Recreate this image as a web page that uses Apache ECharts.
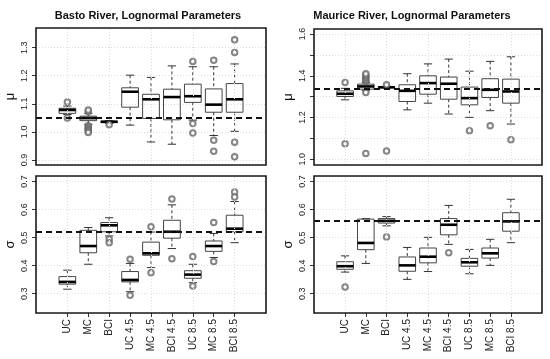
<!DOCTYPE html>
<html>
<head>
<meta charset="utf-8">
<script src="https://cdn.jsdelivr.net/npm/echarts@6/dist/echarts.min.js"></script>
<style>
html,body{margin:0;padding:0;background:#fff;}
#chart{width:550px;height:359px;}
</style>
</head>
<body>
<div id="chart"></div>
<script>
// ---- data ----
const categories = ['UC', 'MC', 'BCI', 'UC 4.5', 'MC 4.5', 'BCI 4.5', 'UC 8.5', 'MC 8.5', 'BCI 8.5'];
const titles = ['Basto River, Lognormal Parameters', 'Maurice River, Lognormal Parameters'];

// [lower whisker, Q1, median, Q3, upper whisker]
const bastoMuStats = [
  [1.062, 1.066, 1.078, 1.084, 1.092],
  [1.027, 1.040, 1.049, 1.056, 1.066],
  [1.030, 1.033, 1.036, 1.038, 1.040],
  [1.024, 1.088, 1.143, 1.157, 1.202],
  [0.964, 1.048, 1.116, 1.134, 1.194],
  [0.956, 1.043, 1.124, 1.152, 1.235],
  [1.042, 1.105, 1.127, 1.170, 1.232],
  [0.987, 1.070, 1.097, 1.153, 1.232],
  [1.002, 1.070, 1.116, 1.172, 1.242]
];
const bastoMuOutliers = [
  [1.106, 1.049],
  [1.072, 1.078, 1.022, 1.017, 1.012, 1.007, 1.003, 0.998],
  [1.025],
  [], [], [],
  [1.251, 1.030, 0.996],
  [1.255, 0.970, 0.931],
  [1.328, 1.283, 0.963, 0.911]
];
const bastoMuRef = 1.055;

const bastoSigmaStats = [
  [0.316, 0.334, 0.342, 0.361, 0.384],
  [0.405, 0.446, 0.470, 0.526, 0.536],
  [0.506, 0.521, 0.544, 0.554, 0.571],
  [0.307, 0.342, 0.349, 0.379, 0.408],
  [0.393, 0.437, 0.444, 0.484, 0.520],
  [0.461, 0.498, 0.521, 0.562, 0.617],
  [0.339, 0.355, 0.368, 0.382, 0.405],
  [0.429, 0.451, 0.470, 0.488, 0.515],
  [0.482, 0.521, 0.532, 0.580, 0.629]
];
const bastoSigmaOutliers = [
  [], [],
  [0.494, 0.482],
  [0.423, 0.294],
  [0.539, 0.375],
  [0.638, 0.425],
  [0.433, 0.327],
  [0.554, 0.415],
  [0.663, 0.645]
];
const bastoSigmaRef = 0.52;

const mauriceMuStats = [
  [1.285, 1.301, 1.314, 1.328, 1.340],
  [1.330, 1.336, 1.349, 1.360, 1.368],
  [1.341, 1.343, 1.345, 1.348, 1.350],
  [1.237, 1.277, 1.328, 1.357, 1.410],
  [1.269, 1.312, 1.365, 1.400, 1.457],
  [1.217, 1.288, 1.362, 1.394, 1.480],
  [1.201, 1.261, 1.293, 1.346, 1.422],
  [1.233, 1.296, 1.333, 1.386, 1.469],
  [1.169, 1.269, 1.325, 1.384, 1.491]
];
const mauriceMuOutliers = [
  [1.368, 1.075],
  [1.373, 1.380, 1.388, 1.395, 1.403, 1.410, 1.320, 1.028],
  [1.357, 1.040],
  [], [], [],
  [1.137],
  [1.161],
  [1.094]
];
const mauriceMuRef = 1.345;

const mauriceSigmaStats = [
  [0.377, 0.387, 0.398, 0.414, 0.435],
  [0.408, 0.457, 0.481, 0.566, 0.568],
  [0.542, 0.552, 0.560, 0.568, 0.575],
  [0.351, 0.380, 0.401, 0.431, 0.465],
  [0.379, 0.410, 0.432, 0.463, 0.501],
  [0.476, 0.510, 0.546, 0.568, 0.615],
  [0.371, 0.398, 0.412, 0.426, 0.458],
  [0.401, 0.427, 0.444, 0.463, 0.494],
  [0.482, 0.523, 0.558, 0.589, 0.637]
];
const mauriceSigmaOutliers = [
  [0.324], [],
  [0.502],
  [], [],
  [0.446],
  [], [], []
];
const mauriceSigmaRef = 0.564;

// y-axis extents (frame edges)
const yExtents = [[0.882, 1.37], [0.231, 0.72], [0.973, 1.624], [0.231, 0.72]];

// ---- chart ----
const axisCats = [''].concat(categories, ['']);
const gridCats = categories.filter((c, i) => i % 2 === 0);

const panels = [
  {stats: bastoMuStats, out: bastoMuOutliers, ref: bastoMuRef, name: 'μ', grid: {left: 36, top: 28, width: 230, height: 137}, bottom: false, labelEvery: 1},
  {stats: bastoSigmaStats, out: bastoSigmaOutliers, ref: bastoSigmaRef, name: 'σ', grid: {left: 36, top: 176, width: 230, height: 137}, bottom: true, labelEvery: 1},
  {stats: mauriceMuStats, out: mauriceMuOutliers, ref: mauriceMuRef, name: 'μ', grid: {left: 314, top: 29, width: 228, height: 136}, bottom: false, labelEvery: 2},
  {stats: mauriceSigmaStats, out: mauriceSigmaOutliers, ref: mauriceSigmaRef, name: 'σ', grid: {left: 314, top: 176, width: 228, height: 137}, bottom: true, labelEvery: 1}
];

const FONT = '"Liberation Sans", Arial, Helvetica, sans-serif';

function renderBox(params, api) {
  const x = api.value(0);
  const pLo = api.coord([x, api.value(1)]);
  const pQ1 = api.coord([x, api.value(2)]);
  const pMed = api.coord([x, api.value(3)]);
  const pQ3 = api.coord([x, api.value(4)]);
  const pHi = api.coord([x, api.value(5)]);
  const band = api.size([1, 0])[0];
  const hw = band * 0.4;
  const cw = hw * 0.5;
  const cx = pMed[0];
  const dash = {stroke: '#333', lineWidth: 1, lineDash: [3, 2.5], fill: null};
  const solid = {stroke: '#333', lineWidth: 1, fill: null};
  return {
    type: 'group',
    children: [
      {type: 'line', shape: {x1: cx, y1: pHi[1], x2: cx, y2: pQ3[1]}, style: dash},
      {type: 'line', shape: {x1: cx, y1: pQ1[1], x2: cx, y2: pLo[1]}, style: dash},
      {type: 'line', shape: {x1: cx - cw, y1: pHi[1], x2: cx + cw, y2: pHi[1]}, style: solid},
      {type: 'line', shape: {x1: cx - cw, y1: pLo[1], x2: cx + cw, y2: pLo[1]}, style: solid},
      {type: 'rect', shape: {x: cx - hw, y: pQ3[1], width: 2 * hw, height: pQ1[1] - pQ3[1]}, style: {stroke: '#444', lineWidth: 1, fill: 'rgba(0,0,0,0)'}},
      {type: 'line', shape: {x1: cx - hw, y1: pMed[1], x2: cx + hw, y2: pMed[1]}, style: {stroke: '#000', lineWidth: 2.6}}
    ]
  };
}

const option = {
  animation: false,
  backgroundColor: '#fff',
  title: [
    {text: titles[0], left: 143, top: 5, textAlign: 'center', textStyle: {fontFamily: FONT, fontSize: 11, fontWeight: 'bold', color: '#111'}},
    {text: titles[1], left: 407, top: 5, textAlign: 'center', textStyle: {fontFamily: FONT, fontSize: 11, fontWeight: 'bold', color: '#111'}}
  ],
  grid: [],
  xAxis: [],
  yAxis: [],
  series: [],
  graphic: []
};

panels.forEach((p, k) => {
  option.grid.push(Object.assign({show: false, containLabel: false}, p.grid));
  // panel frame (box around plotting region)
  option.graphic.push({
    type: 'rect', z: 100, silent: true,
    shape: {x: p.grid.left, y: p.grid.top, width: p.grid.width, height: p.grid.height},
    style: {fill: null, stroke: '#1a1a1a', lineWidth: 1.6}
  });
  option.xAxis.push({
    type: 'category', gridIndex: k, data: axisCats, boundaryGap: true,
    axisLine: {show: false},
    axisTick: {show: p.bottom, alignWithLabel: true, length: 4, lineStyle: {color: '#333'}, interval: (i) => i > 0 && i < axisCats.length - 1},
    axisLabel: {show: p.bottom, rotate: 90, interval: 0, fontFamily: FONT, fontSize: 10, color: '#222', margin: 6},
    splitLine: {show: false}
  });
  option.yAxis.push({
    type: 'value', gridIndex: k, min: yExtents[k][0], max: yExtents[k][1],
    name: p.name, nameLocation: 'middle', nameRotate: 90, nameGap: 19,
    nameTextStyle: {fontFamily: FONT, fontSize: 13, color: '#111'},
    axisLine: {show: false},
    axisTick: {show: true, length: 4, lineStyle: {color: '#333'}},
    axisLabel: {
      rotate: 90, fontFamily: FONT, fontSize: 9, color: '#222', margin: 7,
      showMinLabel: false, showMaxLabel: false,
      formatter: (v) => {
        const t = Math.round(v * 10);
        if (Math.abs(v * 10 - t) > 1e-6) return '';
        if (t % p.labelEvery !== 0) return '';
        return (t / 10).toFixed(1);
      }
    },
    splitLine: {show: true, lineStyle: {color: '#ddd', type: [1, 2], width: 1}}
  });
  // grid lines at every other category
  option.series.push({
    type: 'line', xAxisIndex: k, yAxisIndex: k, data: [], z: 1, silent: true,
    markLine: {
      silent: true, symbol: 'none', label: {show: false}, animation: false,
      lineStyle: {color: '#ddd', type: [1, 2], width: 1},
      data: gridCats.map(c => ({xAxis: c}))
    }
  });
  option.series.push({
    type: 'custom', xAxisIndex: k, yAxisIndex: k, z: 3, clip: false,
    renderItem: renderBox,
    encode: {x: 0, y: [1, 2, 3, 4, 5]},
    data: p.stats.map((s, i) => [i + 1].concat(s))
  });
  const pts = [];
  p.out.forEach((arr, i) => arr.forEach(v => pts.push([i + 1, v])));
  option.series.push({
    type: 'scatter', xAxisIndex: k, yAxisIndex: k, z: 4,
    symbol: 'emptyCircle', symbolSize: 5.5,
    itemStyle: {color: '#666', borderColor: '#666', borderWidth: 0.8},
    data: pts,
    markLine: {
      silent: true, symbol: 'none', label: {show: false}, animation: false,
      lineStyle: {color: '#111', type: [6, 4], width: 1.8},
      data: [{yAxis: p.ref}]
    }
  });
});

const chart = echarts.init(document.getElementById('chart'), null, {renderer: 'canvas'});
chart.setOption(option);
</script>
</body>
</html>
